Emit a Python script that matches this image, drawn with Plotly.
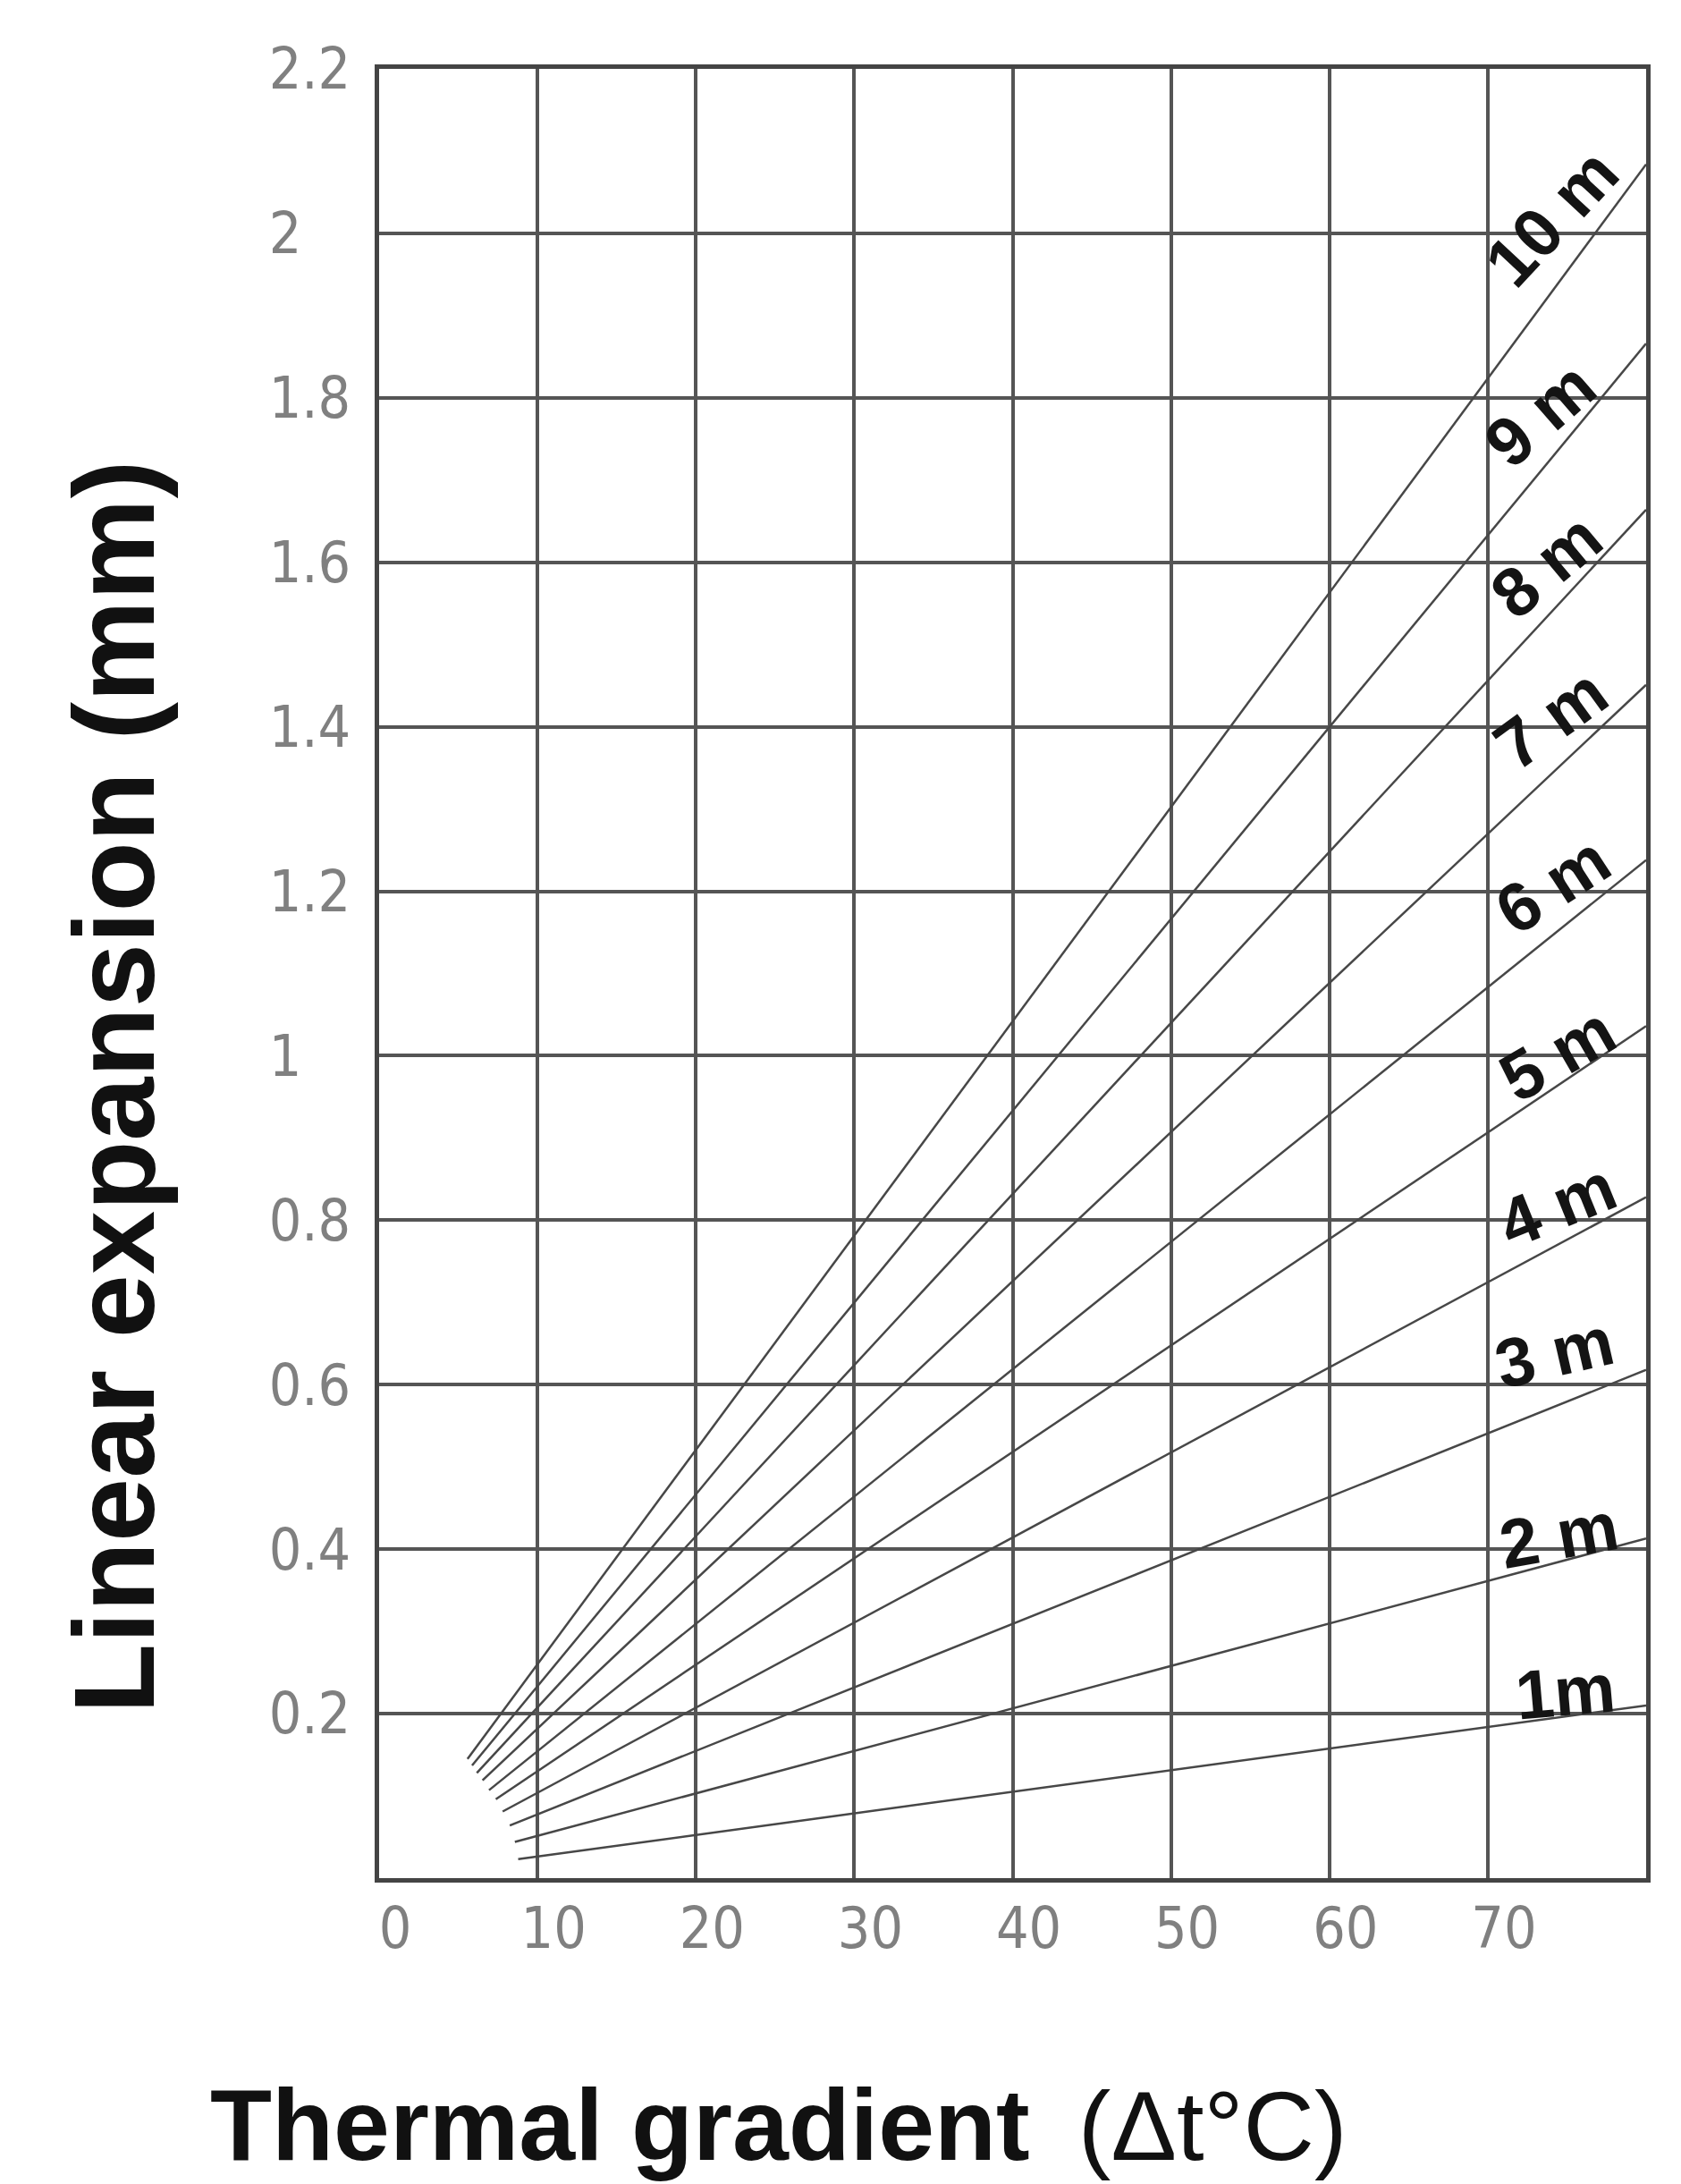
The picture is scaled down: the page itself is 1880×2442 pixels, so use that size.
import plotly.graph_objects as go

# ---- data ----
pipe_length_m = [1, 2, 3, 4, 5, 6, 7, 8, 9, 10]
line_labels = ["1m", "2 m", "3 m", "4 m", "5 m", "6 m", "7 m", "8 m", "9 m", "10 m"]
# start of each line (lower-left fan), thermal gradient and expansion
start_dt = [8.78, 8.57, 8.25, 7.80, 7.37, 6.94, 6.53, 6.17, 5.87, 5.58]
start_exp = [0.023, 0.044, 0.064, 0.081, 0.096, 0.107, 0.119, 0.128, 0.137, 0.145]
# end of each line at the right edge
end_dt = [80, 80, 80, 80, 80, 80, 80, 80, 80, 80]
end_exp = [0.210, 0.413, 0.618, 0.828, 1.036, 1.238, 1.451, 1.664, 1.866, 2.084]

x_ticks = [0, 10, 20, 30, 40, 50, 60, 70, 80]
x_tick_text = ["0", "10", "20", "30", "40", "50", "60", "70", "80"]
y_ticks = [0.2, 0.4, 0.6, 0.8, 1.0, 1.2, 1.4, 1.6, 1.8, 2.0, 2.2]
y_tick_text = ["0.2", "0.4", "0.6", "0.8", "1", "1.2", "1.4", "1.6", "1.8", "2", "2.2"]

x_title_bold = "Thermal gradient"
x_title_unit = "(\u0394t\u00b0C)"
y_title = "Linear expansion (mm)"

# ---- label placement (style) ----
label_dt = [74.9, 74.5, 74.2, 74.4, 74.4, 74.1, 74.0, 73.7, 73.3, 74.0]
label_exp = [0.227, 0.418, 0.639, 0.819, 1.003, 1.208, 1.410, 1.596, 1.780, 2.020]
label_angle = [-5, -10, -13, -22, -30, -33, -36, -40, -41, -47]

LINE_COLOR = "#474747"
GRID_COLOR = "#555555"
TICK_FONT = "Liberation Sans Narrow, DejaVu Sans Condensed, DejaVu Sans, sans-serif"
TITLE_FONT = "Liberation Sans, Arial, Helvetica, sans-serif"

fig = go.Figure()
for i, L in enumerate(pipe_length_m):
    fig.add_trace(go.Scatter(
        x=[start_dt[i], end_dt[i]],
        y=[start_exp[i], end_exp[i]],
        mode="lines",
        line=dict(color=LINE_COLOR, width=2.5),
        name=line_labels[i],
        hoverinfo="name",
        showlegend=False,
    ))

# pad short y labels so they look left-aligned
def pad(t):
    if "." not in t:
        return t + "\u2008\u2007"
    return t

annotations = []
for i in range(len(pipe_length_m)):
    annotations.append(dict(
        x=label_dt[i], y=label_exp[i], xref="x", yref="y",
        text="<b>" + line_labels[i] + "</b>", showarrow=False, textangle=label_angle[i],
        font=dict(family=TITLE_FONT, size=77, color="#141414"),
        xanchor="center", yanchor="middle",
    ))

annotations.append(dict(
    x=-0.2089, y=0.4375, xref="paper", yref="paper",
    text="<b>" + y_title + "</b>", showarrow=False, textangle=-90,
    font=dict(family=TITLE_FONT, size=128, color="#111111"),
    xanchor="center", yanchor="middle",
))
annotations.append(dict(
    x=0.3155, y=-0.1364, xref="paper", yref="paper",
    text="<b>" + x_title_bold + "</b>\u00a0\u2009<span style='font-size:110px'>" + x_title_unit + "</span>",
    showarrow=False,
    font=dict(family=TITLE_FONT, size=113, color="#111111"),
    xanchor="center", yanchor="middle",
))

fig.update_layout(
    width=1880, height=2442,
    margin=dict(l=416, r=47, t=69, b=350),
    plot_bgcolor="white", paper_bgcolor="white",
    showlegend=False,
    annotations=annotations,
)
fig.update_xaxes(
    range=[0, 80], tickmode="array", tickvals=x_ticks, ticktext=x_tick_text,
    showgrid=True, gridcolor=GRID_COLOR, gridwidth=3.5,
    showline=True, linecolor="#444444", linewidth=5, mirror=True,
    zeroline=False, ticks="",
    tickfont=dict(family=TICK_FONT, size=64, color="#808080"),
    ticklabelstandoff=-4, ticklabelshift=18,
)
fig.update_yaxes(
    range=[0, 2.2], tickmode="array", tickvals=y_ticks,
    ticktext=[pad(t) for t in y_tick_text],
    showgrid=True, gridcolor=GRID_COLOR, gridwidth=3.5,
    showline=True, linecolor="#444444", linewidth=5, mirror=True,
    zeroline=False, ticks="",
    tickfont=dict(family=TICK_FONT, size=64, color="#808080"),
    ticklabelstandoff=14,
)

fig.write_html("out.html")
